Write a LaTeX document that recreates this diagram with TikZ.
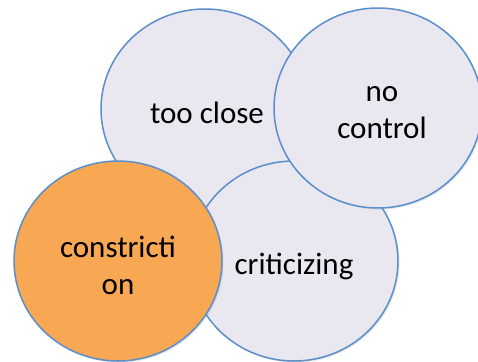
\documentclass[tikz,border=0pt]{standalone}
\usepackage{fontspec}
\setmainfont{Carlito}
\usetikzlibrary{shapes.geometric,shadows}
\definecolor{blobfill}{HTML}{E9E7F0}
\definecolor{blobline}{HTML}{5A8FCB}
\definecolor{blobor}{HTML}{F8A752}
\begin{document}
\begin{tikzpicture}[x=1pt, y=-1pt,
    blob/.style={ellipse, draw=blobline, line width=1.5pt, fill=blobfill,
      minimum width=208pt, minimum height=200pt, inner sep=0pt,
      drop shadow={opacity=0.2, shadow xshift=1.5pt, shadow yshift=-1.5pt}},
    orangeblob/.style={blob, fill=blobor},
    word/.style={align=center, inner sep=0pt, font=\fontsize{31}{37}\selectfont}]
          \useasboundingbox (0, 0) rectangle (478, 361);%
          \node [blob] (tooclose) at (205, 109) {};%
          \node [blob] (criticizing) at (294, 261) {};%
          \node [blob] (nocontrol) at (378, 108) {};%
          \node [orangeblob] (constriction) at (118, 261) {};%
          \node [word] (tooclose text) at (207, 113) {too close};%
          \node [word] (criticizing text) at (294, 266) {criticizing};%
          \node [word] (nocontrol text) at (382, 113) {no\\control};%
          \node [word] (constriction text) at (118, 265) {constricti\\on};%
        \end{tikzpicture}
\end{document}
